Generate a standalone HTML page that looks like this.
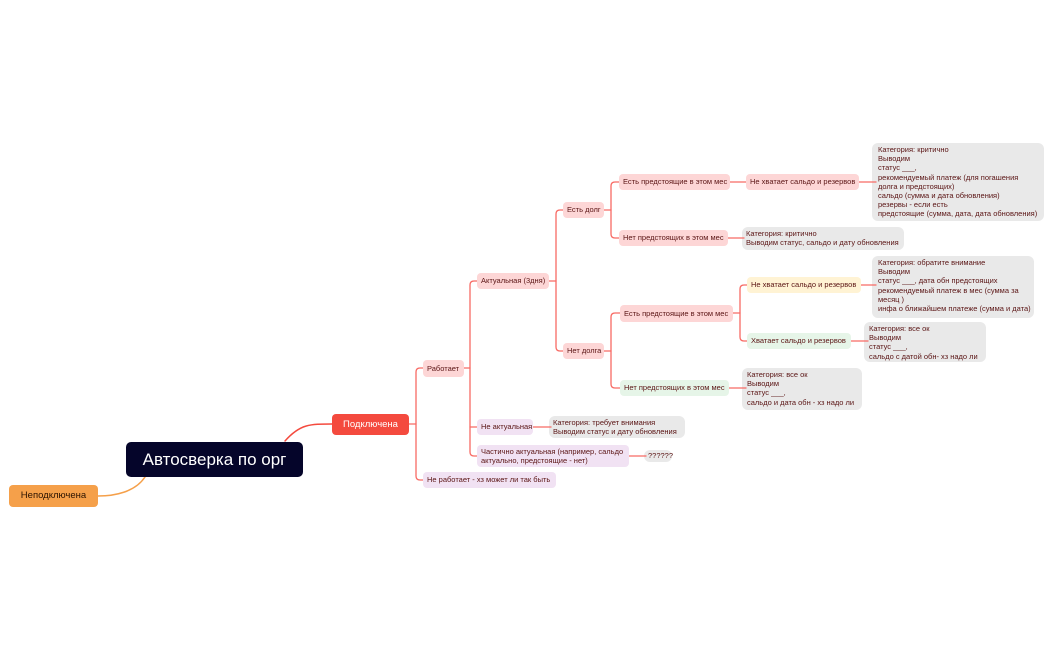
<!DOCTYPE html>
<html><head><meta charset="utf-8"><style>
body{margin:0;width:1050px;height:650px;background:#fff;position:relative;overflow:hidden;font-family:"Liberation Sans","DejaVu Sans",sans-serif;}
.n{position:absolute;box-sizing:border-box;border-radius:4px;font-size:7.5px;color:#5a1414;display:flex;align-items:center;padding:0 4px;white-space:nowrap;line-height:9.3px}
.p{background:#fdd6d6}.l{background:#f1e2f3}.g{background:#e6f5e8}.y{background:#fff3d4}
.note{position:absolute;background:#e9e9e9;border-radius:6px}
.t{position:absolute;font-size:7.5px;line-height:9.2px;color:#5a1414;white-space:nowrap}
svg{position:absolute;left:0;top:0}
</style></head><body>
<div class="note" style="left:872px;top:143px;width:172px;height:78px"></div>
<div class="note" style="left:742px;top:227px;width:162px;height:23px"></div>
<div class="note" style="left:872px;top:256px;width:162px;height:62px"></div>
<div class="note" style="left:864px;top:322px;width:122px;height:40px"></div>
<div class="note" style="left:742px;top:368px;width:120px;height:42px"></div>
<div class="note" style="left:549px;top:416px;width:136px;height:22px"></div>
<div class="note" style="left:644px;top:450px;width:28px;height:12px"></div>
<svg width="1050" height="650" fill="none" stroke-linecap="round">
<path d="M285 441 C300 424 310 424 332 424" stroke="#f44a3e" stroke-width="1.5"/>
<path d="M145 477 C135 492 115 496 98 496" stroke="#f5a04a" stroke-width="1.5"/>
<g stroke="#f86a64" stroke-width="1.3">
<path d="M409 424 H416"/><path d="M424 368 H420 Q416 368 416 372 V476 Q416 480 420 480 H424"/>
<path d="M464 368 H470"/><path d="M478 281 H474 Q470 281 470 285 V452 Q470 456 474 456 H478"/><path d="M470 427 H478"/>
<path d="M549 281 H556"/><path d="M564 210 H560 Q556 210 556 214 V347 Q556 351 560 351 H564"/>
<path d="M604 210 H611"/><path d="M619 182 H615 Q611 182 611 186 V234 Q611 238 615 238 H619"/>
<path d="M604 351 H611"/><path d="M620 313 H615 Q611 313 611 317 V384 Q611 388 615 388 H620"/>
<path d="M733 313 H740"/><path d="M747 285 H744 Q740 285 740 289 V337 Q740 341 744 341 H747"/>
<path d="M730 182 H746"/><path d="M859 182 H876"/><path d="M728 238 H744"/>
<path d="M861 285 H876"/><path d="M851 341 H868"/><path d="M729 388 H746"/>
<path d="M533 427 H551"/><path d="M629 456 H646"/>
</g></svg>
<div class="n" style="left:126px;top:442px;width:177px;height:35px;background:#05052a;color:#fff;font-size:17px;justify-content:center;border-radius:5px">Автосверка по орг</div>
<div class="n" style="left:9px;top:485px;width:89px;height:22px;background:#f5a04a;color:#2a1200;font-size:9.5px;justify-content:center">Неподключена</div>
<div class="n" style="left:332px;top:414px;width:77px;height:21px;background:#f44a3e;color:#fff;font-size:9.5px;justify-content:center">Подключена</div>
<div class="n p" style="left:423px;top:360px;width:41px;height:17px">Работает</div>
<div class="n l" style="left:423px;top:472px;width:133px;height:16px">Не работает - хз может ли так быть</div>
<div class="n p" style="left:477px;top:273px;width:72px;height:16px">Актуальная (3дня)</div>
<div class="n l" style="left:477px;top:419px;width:56px;height:16px">Не актуальная</div>
<div class="n l" style="left:477px;top:445px;width:152px;height:22px;white-space:normal">Частично актуальная (например, сальдо актуально, предстоящие - нет)</div>
<div class="n p" style="left:563px;top:202px;width:41px;height:16px">Есть долг</div>
<div class="n p" style="left:563px;top:343px;width:41px;height:16px">Нет долга</div>
<div class="n p" style="left:619px;top:174px;width:111px;height:16px">Есть предстоящие в этом мес</div>
<div class="n p" style="left:619px;top:230px;width:109px;height:16px">Нет предстоящих в этом мес</div>
<div class="n p" style="left:620px;top:305px;width:113px;height:17px">Есть предстоящие в этом мес</div>
<div class="n g" style="left:620px;top:380px;width:109px;height:16px">Нет предстоящих в этом мес</div>
<div class="n p" style="left:746px;top:174px;width:113px;height:16px">Не хватает сальдо и резервов</div>
<div class="n y" style="left:747px;top:277px;width:114px;height:16px">Не хватает сальдо и резервов</div>
<div class="n g" style="left:747px;top:333px;width:104px;height:16px">Хватает сальдо и резервов</div>
<div class="t" style="left:878px;top:145px">Категория: критично<br>Выводим<br>статус ___,<br>рекомендуемый платеж (для погашения<br>долга и предстоящих)<br>сальдо (сумма и дата обновления)<br>резервы - если есть<br>предстоящие (сумма, дата, дата обновления)</div>
<div class="t" style="left:746px;top:229px">Категория: критично<br>Выводим статус, сальдо и дату обновления</div>
<div class="t" style="left:878px;top:258px">Категория: обратите внимание<br>Выводим<br>статус ___, дата обн предстоящих<br>рекомендуемый платеж в мес (сумма за<br>месяц )<br>инфа о ближайшем платеже (сумма и дата)</div>
<div class="t" style="left:869px;top:324px">Категория: все ок<br>Выводим<br>статус ___,<br>сальдо с датой обн- хз надо ли</div>
<div class="t" style="left:747px;top:370px">Категория: все ок<br>Выводим<br>статус ___,<br>сальдо и дата обн - хз надо ли</div>
<div class="t" style="left:553px;top:418px">Категория: требует внимания<br>Выводим статус и дату обновления</div>
<div class="t" style="left:648px;top:451px">??????</div>
</body></html>
